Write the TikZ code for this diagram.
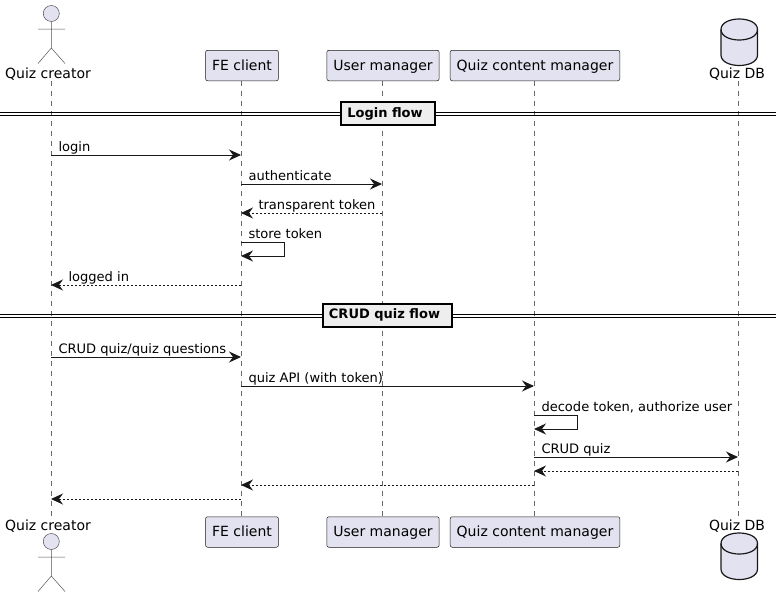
\documentclass[tikz,border=0pt]{standalone}
\usepackage{fontspec}
\setmainfont{DejaVu Sans}
\usetikzlibrary{arrows.meta, positioning}

\definecolor{partfill}{HTML}{E2E2F0}
\definecolor{partline}{HTML}{181818}
\definecolor{dividerfill}{HTML}{EEEEEE}

\tikzset{
	part/.style={draw=partline, line width=0.5pt, fill=partfill, rounded corners=2pt, minimum height=30.5pt, inner xsep=6.5pt, inner ysep=0pt, text height=12.5pt, text depth=3pt, font=\fontsize{14}{16}\selectfont, text=black},
	partlabel/.style={inner sep=0pt, minimum height=15pt, font=\fontsize{14}{16}\selectfont},
	lifeline/.style={draw=partline!65, line width=0.5pt, dash pattern=on 5pt off 5pt},
	msg/.style={draw=partline, line width=1pt, -{Stealth[length=12pt, width=11pt, inset=4pt]}},
	reply/.style={msg, dash pattern=on 2pt off 2pt},
	msglabel/.style={anchor=base west, inner sep=0pt, xshift=7pt, yshift=4pt, font=\fontsize{13.05}{15}\selectfont},
	replylabel/.style={msglabel, xshift=10pt},
	divider/.style={draw=black, line width=2pt, fill=dividerfill, inner xsep=6pt, inner ysep=0pt, minimum height=23pt, font=\bfseries\fontsize{13}{15}\selectfont, execute at end node=\hspace{6pt}},
	rule/.style={draw=black, line width=1pt},
	actorline/.style={draw=partline!75, line width=0.5pt},
	dbline/.style={draw=partline, line width=1.2pt, fill=partfill},
}

\begin{document}
\begin{tikzpicture}[x=1pt, y=-1pt, >=Stealth]
	\useasboundingbox (0,0) rectangle (781,597);

	% participants, top row
	\node[partlabel] (creator) at (48,74) {Quiz creator};
	\node[part] (fe) at (242,65.5) {FE client};
	\node[part] (user) at (383,65.5) {User manager};
	\node[part] (content) at (535,65.5) {Quiz content manager};
	\node[partlabel] (db) at (737,74) {Quiz DB};

	% participants, bottom row
	\node[partlabel] (creatorB) at (48,526) {Quiz creator};
	\node[part] (feB) at (242,532) {FE client};
	\node[part] (userB) at (383,532) {User manager};
	\node[part] (contentB) at (535,532) {Quiz content manager};
	\node[partlabel] (dbB) at (737,526) {Quiz DB};

	% lifelines
	\coordinate (creatorT) at (51,81);
	\coordinate (creatorE) at (51,517);
	\coordinate (feT) at (241,80.5);
	\coordinate (feE) at (241,516.5);
	\coordinate (userT) at (382,80.5);
	\coordinate (userE) at (382,516.5);
	\coordinate (contentT) at (534,80.5);
	\coordinate (contentE) at (534,516.5);
	\coordinate (dbT) at (738,81);
	\coordinate (dbE) at (738,517);
	\foreach \who in {creator, fe, user, content, db}
		\draw[lifeline] (\who T) -- (\who E);

	% actors
	\foreach \y/\nm in {0/creatorHead, 528/creatorHeadB} {
		\begin{scope}[yshift=-\y pt]
			\node[circle, draw=partline!75, line width=0.5pt, fill=partfill, minimum size=16pt, inner sep=0pt] (\nm) at (51.3,13.5) {};
			\draw[actorline] (\nm.south) -- (51.3,48) (38,29) -- (65,29) (38,63.5) -- (51.3,48) -- (65,63.5);
		\end{scope}
	}

	% databases
	\foreach \y in {0,514} {
		\begin{scope}[yshift=-\y pt]
			\draw[dbline] (721,29.5) .. controls (721,15.5) and (757.5,15.5) .. (757.5,29.5) -- (757.5,55) .. controls (757.5,69) and (721,69) .. (721,55) -- cycle;
			\draw[dbline, fill=none] (721,29.5) .. controls (721,43.5) and (757.5,43.5) .. (757.5,29.5);
		\end{scope}
	}

	% dividers
	\coordinate (ruleL) at (0,0);
	\coordinate (ruleR) at (776,0);
	\coordinate (loginY) at (0,113.5);
	\coordinate (crudY) at (0,315.5);
	\foreach \at in {loginY, crudY} {
		\draw[rule] ([yshift=1.5pt]ruleL |- \at) -- ([yshift=1.5pt]ruleR |- \at);
		\draw[rule] ([yshift=-1.5pt]ruleL |- \at) -- ([yshift=-1.5pt]ruleR |- \at);
	}
	\node[divider] (loginflow) at (388,113.5) {Login flow};
	\node[divider] (crudflow) at (387.5,315) {CRUD quiz flow};

	% login flow
	\coordinate (m1) at (0,155);
	\coordinate (m2) at (0,184);
	\coordinate (m3) at (0,213);
	\coordinate (m4) at (0,242);
	\coordinate (m4b) at (284,256);
	\coordinate (m5) at (0,285);
	\draw[msg] (creatorT |- m1) -- node[msglabel, pos=0] {login} (feT |- m1);
	\draw[msg] (feT |- m2) -- node[msglabel, pos=0] {authenticate} (userT |- m2);
	\draw[reply] (userT |- m3) -- node[replylabel, pos=1] {transparent token} (feT |- m3);
	\draw[msg] (feT |- m4) -| (m4b) node[msglabel, at start] {store token} -- (feT |- m4b);
	\draw[reply] (feT |- m5) -- node[replylabel, pos=1] {logged in} (creatorT |- m5);

	% crud flow
	\coordinate (m6) at (0,357);
	\coordinate (m7) at (0,386);
	\coordinate (m8) at (0,415);
	\coordinate (m8b) at (577,429);
	\coordinate (m9) at (0,457);
	\coordinate (m10) at (0,471);
	\coordinate (m11) at (0,485);
	\coordinate (m12) at (0,499);
	\draw[msg] (creatorT |- m6) -- node[msglabel, pos=0] {CRUD quiz/quiz questions} (feT |- m6);
	\draw[msg] (feT |- m7) -- node[msglabel, pos=0] {quiz API (with token)} (contentT |- m7);
	\draw[msg] (contentT |- m8) -| (m8b) node[msglabel, at start] {decode token, authorize user} -- (contentT |- m8b);
	\draw[msg] (contentT |- m9) -- node[msglabel, pos=0] {CRUD quiz} (dbT |- m9);
	\draw[reply] (dbT |- m10) -- (contentT |- m10);
	\draw[reply] (contentT |- m11) -- (feT |- m11);
	\draw[reply] (feT |- m12) -- (creatorT |- m12);
\end{tikzpicture}
\end{document}
